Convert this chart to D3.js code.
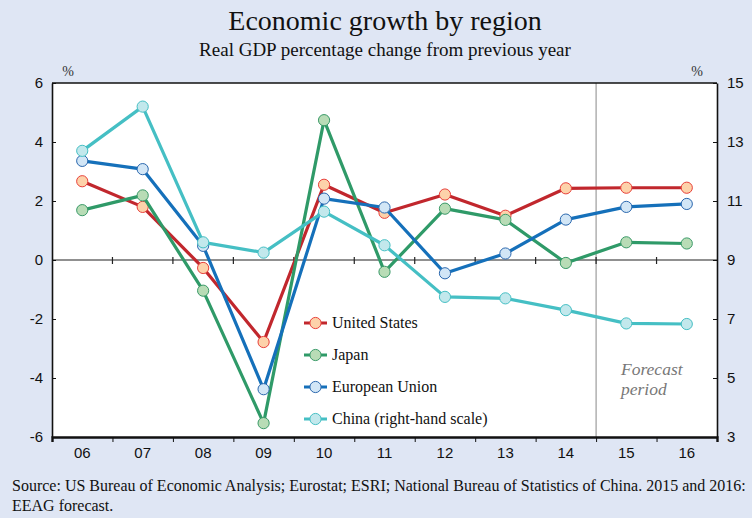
<html>
<head>
<meta charset="utf-8">
<script src="https://cdnjs.cloudflare.com/ajax/libs/d3/7.8.5/d3.min.js"></script>
<style>
  body { margin: 0; background: #dfe6f4; }
  svg { display: block; }
</style>
</head>
<body>
<svg width="752" height="518"></svg>
<script>
const years = ['06', '07', '08', '09', '10', '11', '12', '13', '14', '15', '16']
const unitedStates = [2.67, 1.8, -0.27, -2.78, 2.55, 1.6, 2.22, 1.5, 2.43, 2.45, 2.45]
const japan = [1.69, 2.19, -1.04, -5.53, 4.74, -0.4, 1.74, 1.36, -0.1, 0.6, 0.56]
const europeanUnion = [3.36, 3.08, 0.48, -4.38, 2.08, 1.78, -0.45, 0.22, 1.37, 1.8, 1.9]
const china = [12.7, 14.2, 9.6, 9.25, 10.64, 9.5, 7.75, 7.7, 7.3, 6.85, 6.83]
const leftTicks = [-6, -4, -2, 0, 2, 4, 6]
const rightTicks = [3, 5, 7, 9, 11, 13, 15]

const series = [
  { name: 'United States', values: unitedStates, axis: 'left', line: '#c1272d', fill: '#fdd2aa', stroke: '#e8403a' },
  { name: 'Japan', values: japan, axis: 'left', line: '#2f9a68', fill: '#b8dcb6', stroke: '#3a9a68' },
  { name: 'European Union', values: europeanUnion, axis: 'left', line: '#1570ba', fill: '#d2e6f6', stroke: '#2a67ae' },
  { name: 'China (right-hand scale)', values: china, axis: 'right', line: '#45bfc4', fill: '#c2e8ec', stroke: '#45bfc4' }
]

const plotLeft = 52, plotRight = 717, plotTop = 83, plotBottom = 437
const svg = d3.select('svg')

const x = d3.scaleBand().domain(years).range([plotLeft, plotRight]).padding(0)
const xEdge = d3.scaleLinear().domain([0, years.length]).range([plotLeft, plotRight])
const yLeft = d3.scaleLinear().domain([-6, 6]).range([plotBottom, plotTop])
const yRight = d3.scaleLinear().domain([3, 15]).range([plotBottom, plotTop])

// titles
svg.append('text').attr('x', 385).attr('y', 30).attr('text-anchor', 'middle')
  .style('font', '28px "Liberation Serif", serif').attr('fill', '#111').text('Economic growth by region')
svg.append('text').attr('x', 385).attr('y', 56).attr('text-anchor', 'middle')
  .style('font', '19px "Liberation Serif", serif').attr('fill', '#111').text('Real GDP percentage change from previous year')
svg.append('text').attr('x', 68).attr('y', 76).attr('text-anchor', 'middle')
  .style('font', '14px "Liberation Serif", serif').attr('fill', '#333').text('%')
svg.append('text').attr('x', 697).attr('y', 76).attr('text-anchor', 'middle')
  .style('font', '14px "Liberation Serif", serif').attr('fill', '#333').text('%')

// plot area
svg.append('rect').attr('x', plotLeft).attr('y', plotTop).attr('width', plotRight - plotLeft).attr('height', plotBottom - plotTop).attr('fill', '#fff')

// forecast divider
svg.append('line').attr('x1', xEdge(9)).attr('x2', xEdge(9)).attr('y1', plotTop).attr('y2', plotBottom)
  .attr('stroke', '#888').attr('stroke-width', 1)
svg.append('text').attr('x', 621).attr('y', 375)
  .style('font', 'italic 17.5px "Liberation Serif", serif').attr('fill', '#777').text('Forecast')
svg.append('text').attr('x', 621).attr('y', 395)
  .style('font', 'italic 17.5px "Liberation Serif", serif').attr('fill', '#777').text('period')

// zero line with crossing ticks
svg.append('line').attr('x1', plotLeft).attr('x2', plotRight).attr('y1', yLeft(0)).attr('y2', yLeft(0))
  .attr('stroke', '#222').attr('stroke-width', 1.2)
svg.append('g').selectAll('line').data(d3.range(1, years.length)).join('line')
  .attr('x1', d => xEdge(d)).attr('x2', d => xEdge(d))
  .attr('y1', yLeft(0) - 3).attr('y2', yLeft(0) + 4).attr('stroke', '#222').attr('stroke-width', 1.2)

// top border
svg.append('line').attr('x1', plotLeft).attr('x2', plotRight).attr('y1', plotTop).attr('y2', plotTop).attr('stroke', '#111').attr('stroke-width', 1.5)

// axes
const styleAxis = g => {
  g.select('.domain').attr('stroke', '#111').attr('stroke-width', 1.6)
  g.selectAll('.tick line').attr('stroke', '#111').attr('stroke-width', 1)
  g.selectAll('.tick text').style('font', '15px "Liberation Sans", Arial, sans-serif').attr('fill', '#111')
}
svg.append('g').attr('transform', `translate(${plotLeft},0)`)
  .call(d3.axisLeft(yLeft).tickValues(leftTicks).tickFormat(d => String(d)).tickSizeInner(-4).tickSizeOuter(0).tickPadding(9))
  .call(styleAxis)
svg.append('g').attr('transform', `translate(${plotRight},0)`)
  .call(d3.axisRight(yRight).tickValues(rightTicks).tickFormat(d => String(d)).tickSizeInner(-4).tickSizeOuter(0).tickPadding(10))
  .call(styleAxis)
const bottomTicks = svg.append('g').attr('transform', `translate(0,${plotBottom})`)
  .call(d3.axisBottom(xEdge).tickValues(d3.range(0, years.length + 1)).tickSize(5).tickFormat(''))
  .call(styleAxis)
bottomTicks.select('.domain').attr('stroke-width', 2.4)
svg.append('g').attr('transform', `translate(0,${plotBottom})`)
  .call(d3.axisBottom(x).tickSize(0).tickPadding(10.5))
  .call(styleAxis)
  .call(g => g.select('.domain').remove())

// series
series.forEach(s => {
  const y = s.axis === 'left' ? yLeft : yRight
  const pts = s.values.map((v, i) => [x(years[i]) + x.bandwidth() / 2, y(v)])
  svg.append('path').datum(pts).attr('d', d3.line())
    .attr('fill', 'none').attr('stroke', s.line).attr('stroke-width', 3.2).attr('stroke-linejoin', 'round')
  svg.append('g').selectAll('circle').data(pts).join('circle')
    .attr('cx', d => d[0]).attr('cy', d => d[1]).attr('r', 5.6)
    .attr('fill', s.fill).attr('stroke', s.stroke).attr('stroke-width', 1)
})

// legend
const legend = svg.append('g').attr('transform', 'translate(304,323)')
series.forEach((s, i) => {
  const g = legend.append('g').attr('transform', `translate(0,${i * 32})`)
  g.append('line').attr('x1', 0).attr('x2', 23).attr('stroke', s.line).attr('stroke-width', 3)
  g.append('circle').attr('cx', 11.5).attr('r', 5.6).attr('fill', s.fill).attr('stroke', s.stroke).attr('stroke-width', 1)
  g.append('text').attr('x', 28).attr('y', 5).style('font', '16px "Liberation Serif", serif').attr('fill', '#111').text(s.name)
})

// source
svg.append('text').attr('x', 12).attr('y', 491).style('font', '16px "Liberation Serif", serif').attr('fill', '#111')
  .text('Source: US Bureau of Economic Analysis; Eurostat; ESRI; National Bureau of Statistics of China. 2015 and 2016:')
svg.append('text').attr('x', 12).attr('y', 511).style('font', '16px "Liberation Serif", serif').attr('fill', '#111')
  .text('EEAG forecast.')
</script>
</body>
</html>
